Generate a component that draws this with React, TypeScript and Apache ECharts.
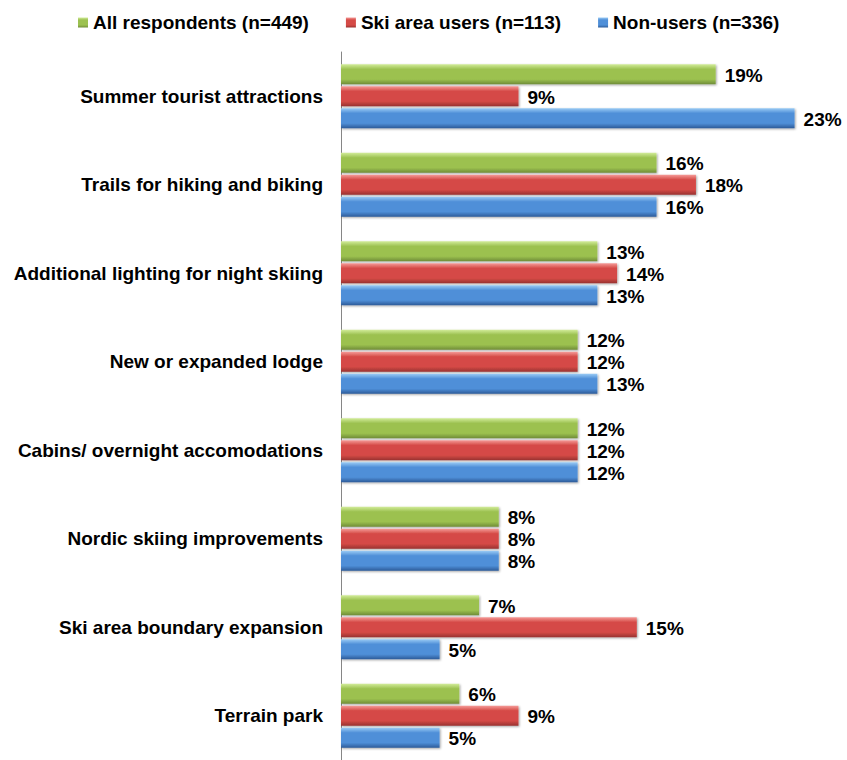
import React, { useEffect, useRef } from "react";
import * as echarts from "echarts";

const categories = [
  "Summer tourist attractions",
  "Trails for hiking and biking",
  "Additional lighting for night skiing",
  "New or expanded lodge",
  "Cabins/ overnight accomodations",
  "Nordic skiing improvements",
  "Ski area boundary expansion",
  "Terrain park",
];
const seriesNames = ["All respondents (n=449)", "Ski area users (n=113)", "Non-users (n=336)"];
const allRespondents = [19, 16, 13, 12, 12, 8, 7, 6];
const skiAreaUsers = [9, 18, 14, 12, 12, 8, 15, 9];
const nonUsers = [23, 16, 13, 13, 12, 8, 5, 5];

const FONT = "'Liberation Sans', Arial, sans-serif";

function grad(top: string, mid: string, bottom: string) {
  return new echarts.graphic.LinearGradient(0, 0, 0, 1, [
    { offset: 0, color: top },
    { offset: 0.25, color: mid },
    { offset: 0.75, color: mid },
    { offset: 1, color: bottom },
  ]);
}

export default function App() {
  const ref = useRef<HTMLDivElement>(null);
  useEffect(() => {
    if (!ref.current) return;
    const chart = echarts.init(ref.current, null, { renderer: "svg" });
    const colors = [
      grad("#d2ec9a", "#9cc150", "#6f8c37"),
      grad("#f59b98", "#d54a46", "#983230"),
      grad("#9acbf5", "#4f8fd8", "#2c5a98"),
    ];
    const datasets = [allRespondents, skiAreaUsers, nonUsers];
    chart.setOption({
      animation: false,
      backgroundColor: "#ffffff",
      textStyle: { fontFamily: FONT },
      legend: {
        left: 73,
        top: 8,
        itemWidth: 10,
        itemHeight: 10,
        itemGap: 37,
        icon: "rect",
        textStyle: { fontSize: 19, fontWeight: "bold", color: "#000", fontFamily: FONT },
        data: seriesNames,
      },
      grid: { left: 341, right: 13, top: 52, bottom: -3, containLabel: false },
      xAxis: {
        type: "value",
        min: 0,
        max: 25,
        show: false,
      },
      yAxis: {
        type: "category",
        data: categories,
        inverse: true,
        axisLine: { show: true, lineStyle: { color: "#868686", width: 1 } },
        axisTick: { show: false },
        axisLabel: {
          margin: 18,
          fontSize: 19,
          fontWeight: "bold",
          color: "#000",
          fontFamily: FONT,
        },
      },
      series: datasets.map((d, i) => ({
        name: seriesNames[i],
        type: "bar",
        data: d,
        barWidth: 20,
        barGap: "10%",
        itemStyle: {
          color: colors[i],
          shadowColor: "rgba(0,0,0,0.35)",
          shadowBlur: 2,
          shadowOffsetX: 1,
          shadowOffsetY: 1,
        },
        label: {
          show: true,
          position: "right",
          distance: 9,
          offset: [0, 1],
          formatter: "{c}%",
          fontSize: 19,
          fontWeight: "bold",
          color: "#000",
          fontFamily: FONT,
        },
      })),
    });
    return () => chart.dispose();
  }, []);
  return (
    <div
      ref={ref}
      style={{ position: "absolute", left: 0, top: 0, width: 847, height: 760 }}
    />
  );
}
